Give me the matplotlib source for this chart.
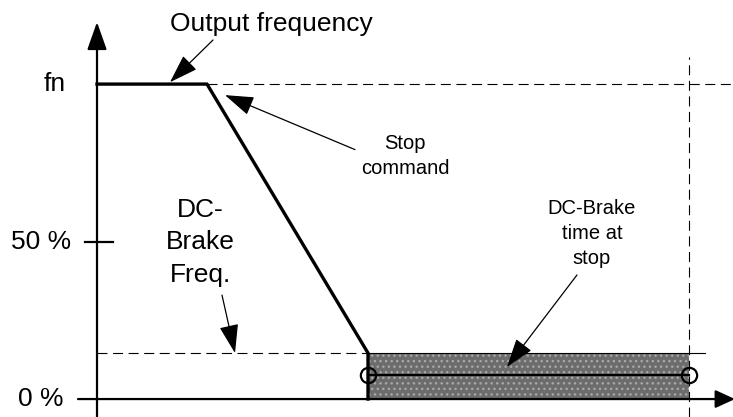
import matplotlib.pyplot as plt
from matplotlib.patches import Rectangle

# Time in arbitrary units, frequency in % of fn
t_stop = 11.0        # stop command
t_dc_start = 27.1    # output reaches DC-brake frequency
t_dc_end = 59.2      # end of DC-brake time at stop

freq_levels = [100, 50, 0]
freq_labels = ["fn", "50 %", "0 %"]
dc_brake_freq = 14.6
dc_marker_level = 7.6

out_t = [0.0, t_stop, t_dc_start, t_dc_start]
out_f = [100, 100, dc_brake_freq, 0]

fig = plt.figure(figsize=(7.33, 4.17), dpi=100)
ax = fig.add_axes([0, 0, 1, 1])
ax.set_xlim(-9.7, 63.6)
ax.set_ylim(-5.7, 126.7)
ax.axis("off")

font = "Liberation Sans"

# axes with arrow heads
ax.annotate("", xy=(0, 119.7), xytext=(0, -5.8), annotation_clip=False,
            arrowprops=dict(arrowstyle="-|>,head_length=1.7,head_width=0.6",
                            color="black", lw=1.6, shrinkA=0, shrinkB=0))
ax.annotate("", xy=(63.8, 0), xytext=(-1.9, 0), annotation_clip=False,
            arrowprops=dict(arrowstyle="-|>,head_length=1.2,head_width=0.55",
                            color="black", lw=1.6, shrinkA=0, shrinkB=0))

# 50 % tick
ax.plot([-1.2, 1.6], [50, 50], color="black", lw=1.6)

# y labels
ax.text(-3.1, 100, freq_labels[0], ha="right", va="center", fontsize=19, family=font)
ax.text(-2.6, 50, freq_labels[1], ha="right", va="center", fontsize=19, family=font)
ax.text(-3.4, 0, freq_labels[2], ha="right", va="center", fontsize=19, family=font)

# dashed guide lines
dash = dict(color="black", lw=0.8, dashes=(9, 5))
ax.plot([t_stop, 63.6], [100, 100], **dash)
ax.plot([0, t_dc_start], [dc_brake_freq, dc_brake_freq], **dash)
ax.plot([t_dc_end, t_dc_end], [-5.7, 108.5], **dash)
ax.plot([t_dc_start, 60.8], [dc_brake_freq, dc_brake_freq], color="black", lw=0.8)

# DC-brake shaded area
ax.add_patch(Rectangle((t_dc_start, 0), t_dc_end - t_dc_start, dc_brake_freq,
                       facecolor="#6c6c6c", edgecolor="#a8a8a8", hatch="...",
                       lw=0, zorder=1))
ax.plot([t_dc_start, t_dc_end], [dc_marker_level, dc_marker_level], color="black", lw=1.6)
ax.plot([t_dc_start, t_dc_end], [dc_marker_level, dc_marker_level], "o",
        ms=11, mfc="none", mec="black", mew=1.6, zorder=4)

# output frequency
ax.plot(out_t, out_f, color="black", lw=2.4, solid_joinstyle="miter", zorder=3)

arrow = dict(arrowstyle="-|>,head_length=1.8,head_width=0.6", color="black",
             lw=0.9, shrinkA=0, shrinkB=0)

ax.text(17.4, 119, "Output frequency", ha="center", va="center", fontsize=19, family=font)
ax.annotate("", xy=(7.3, 100.6), xytext=(11.6, 114), arrowprops=arrow)

ax.text(30.8, 77.2, "Stop\ncommand", ha="center", va="center", fontsize=14.5,
        family=font, linespacing=1.4)
ax.annotate("", xy=(12.8, 96.5), xytext=(25.8, 79.2), arrowprops=arrow)

ax.text(10.35, 49.8, "DC-\nBrake\nFreq.", ha="center", va="center", fontsize=19,
        family=font, linespacing=1.45)
ax.annotate("", xy=(13.8, dc_brake_freq), xytext=(12.5, 33), arrowprops=arrow)

ax.text(49.5, 52.6, "DC-Brake\ntime at\nstop", ha="center", va="center", fontsize=14.5,
        family=font, linespacing=1.42)
ax.annotate("", xy=(41.0, 10.2), xytext=(48.0, 39.4), arrowprops=arrow)

fig.savefig("out.png", dpi=100)
